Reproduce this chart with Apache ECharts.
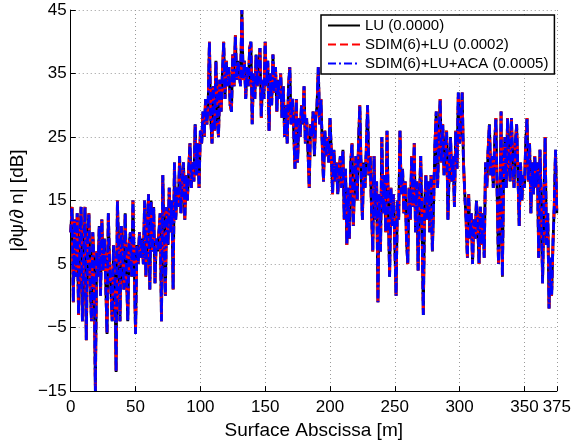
<!DOCTYPE html>
<html><head><meta charset="utf-8">
<script src="https://cdn.jsdelivr.net/npm/echarts@6/dist/echarts.min.js"></script>
<style>html,body{margin:0;padding:0;background:#fff}#c{width:574px;height:445px}</style>
</head><body><div id="c"></div>
<script>
const xTicks = [0, 50, 100, 150, 200, 250, 300, 350, 375];
const yTicks = [-15, -5, 5, 15, 25, 35, 45];
const seriesNames = ['LU (0.0000)', 'SDIM(6)+LU (0.0002)', 'SDIM(6)+LU+ACA (0.0005)'];
const sampleStep = 1; // metres between samples
// |dpsi/dn| in dB, one value per metre
const valuesA = [10,14,-1,12,3,13,-3,8,14,-4, 6,14,-7,9,13,2,-4,10,5,-15, 7,3,11,0,12,4,9,2,-6,13, 5,1,-4,8,4,-12,15,7,-4,11, 6,1,13,4,-4,8,10,3,15,5, -6,8,5,10];
const valuesB = [6,9,5,15,3,10,16,1,15,7, 14,2,9,7,10,13,-4,19,9,0, 14,8,17,10,15,1,21,12,17,14, 22,13,18,21,12,19,15,20,24,17, 21,18,27,19,24,17,26,24,29,25, 31,27,30,40,28,24];
const valuesC = [33,26,37,28,25,34,29,35,40,31, 37,33,36,30,29,38,33,41,34,37, 35,33,45,34,37,31,36,33,39,40, 27,35,31,38,33,36,39,28,34,31, 40,33,37,26,35,30,38,32,36,29, 34,31,35,28,33,25];
const valuesD = [30,24,33,36,27,31,26,20,31,21, 28,25,30,27,33,24,28,23,17,27, 25,29,22,28,30,36,27,31,24,18, 26,22,25,21,28,23,16,23,18,21, 16,20,22,17,23,12,20,8,17,9, 21,24,11,18,22];
const valuesE = [15,24,30,20,12,21,17,23,30,19, 22,14,7,22,12,18,-1,16,7,25, 13,19,10,26,14,3,17,11,16,8, 0,15,12,26,16,20,13,18,9,5, 17,12,22,14,24,10,18,4,15,22, 11,-3,14,19];
const valuesF = [12,18,10,19,7,15,24,29,17,25, 31,21,27,19,23,26,12,20,25,18, 22,14,26,20,32,24,27,32,21,16, 12,6,16,9,13,5,12,9,15,11, 5,14,8,13,6,21,17,23,27,19, 22,17,24,28,16,5];
const valuesG = [12,29,3,20,25,17,28,22,18,28, 21,17,24,27,19,11,21,15,19,17, 24,28,18,24,13,21,16,22,17,21, 6,23,15,2,14,25,8,13,-2,6, 0,8,14,23,13];

const values = [].concat(valuesA, valuesB, valuesC, valuesD, valuesE, valuesF, valuesG);
const points = values.map((v, i) => [i * sampleStep, v]);

const FONT = '"Liberation Sans", Arial, Helvetica, sans-serif';
const minus = v => String(v).replace('-', '\u2212');
const chart = echarts.init(document.getElementById('c'), null, {renderer: 'canvas'});
const styles = [
  {color: '#000000', type: 'solid'},
  {color: '#ff0000', type: [8, 4]},
  {color: '#0000ff', type: [8, 3, 2, 3]}
];
chart.setOption({
  animation: false,
  backgroundColor: '#ffffff',
  grid: {left: 69, right: 15, top: 10, bottom: 49, containLabel: false},
  legend: {
    orient: 'vertical', left: 321, top: 15,
    padding: [3, 6, 3, 6], itemGap: 4, itemWidth: 32, itemHeight: 14,
    backgroundColor: '#ffffff', borderColor: '#000000', borderWidth: 1.5, borderRadius: 0,
    itemStyle: {opacity: 0, borderWidth: 0},
    textStyle: {fontSize: 15, color: '#000', fontFamily: FONT},
    data: seriesNames
  },
  xAxis: {
    type: 'value', min: 0, max: 375,
    name: 'Surface Abscissa [m]', nameLocation: 'middle', nameGap: 24,
    nameTextStyle: {fontSize: 19, color: '#000', fontFamily: FONT},
    axisLine: {show: true, onZero: false, lineStyle: {color: '#000', width: 1}},
    axisTick: {show: true, inside: true, length: 5, customValues: xTicks, lineStyle: {color: '#000'}},
    axisLabel: {customValues: xTicks, fontSize: 17, color: '#000', fontFamily: FONT, margin: 8, formatter: minus},
    splitLine: {show: true, lineStyle: {color: '#9a9a9a', type: [1, 3], width: 1}}
  },
  yAxis: {
    type: 'value', min: -15, max: 45,
    name: '|\u2202\u03c8/\u2202 n| [dB]', nameLocation: 'middle', nameGap: 35,
    nameTextStyle: {fontSize: 19, color: '#000', fontFamily: FONT},
    axisLine: {show: true, onZero: false, lineStyle: {color: '#000', width: 1}},
    axisTick: {show: true, inside: true, length: 5, customValues: yTicks, lineStyle: {color: '#000'}},
    axisLabel: {customValues: yTicks, fontSize: 17, color: '#000', fontFamily: FONT, margin: 4, formatter: minus},
    splitLine: {show: true, lineStyle: {color: '#9a9a9a', type: [1, 3], width: 1}}
  },
  series: seriesNames.map((n, k) => ({
    name: n, type: 'line', data: points, symbol: 'none', showSymbol: false,
    lineStyle: {color: styles[k].color, width: 2.8, type: styles[k].type},
    itemStyle: {color: styles[k].color},
    z: 2 + k
  }))
});
</script></body></html>
